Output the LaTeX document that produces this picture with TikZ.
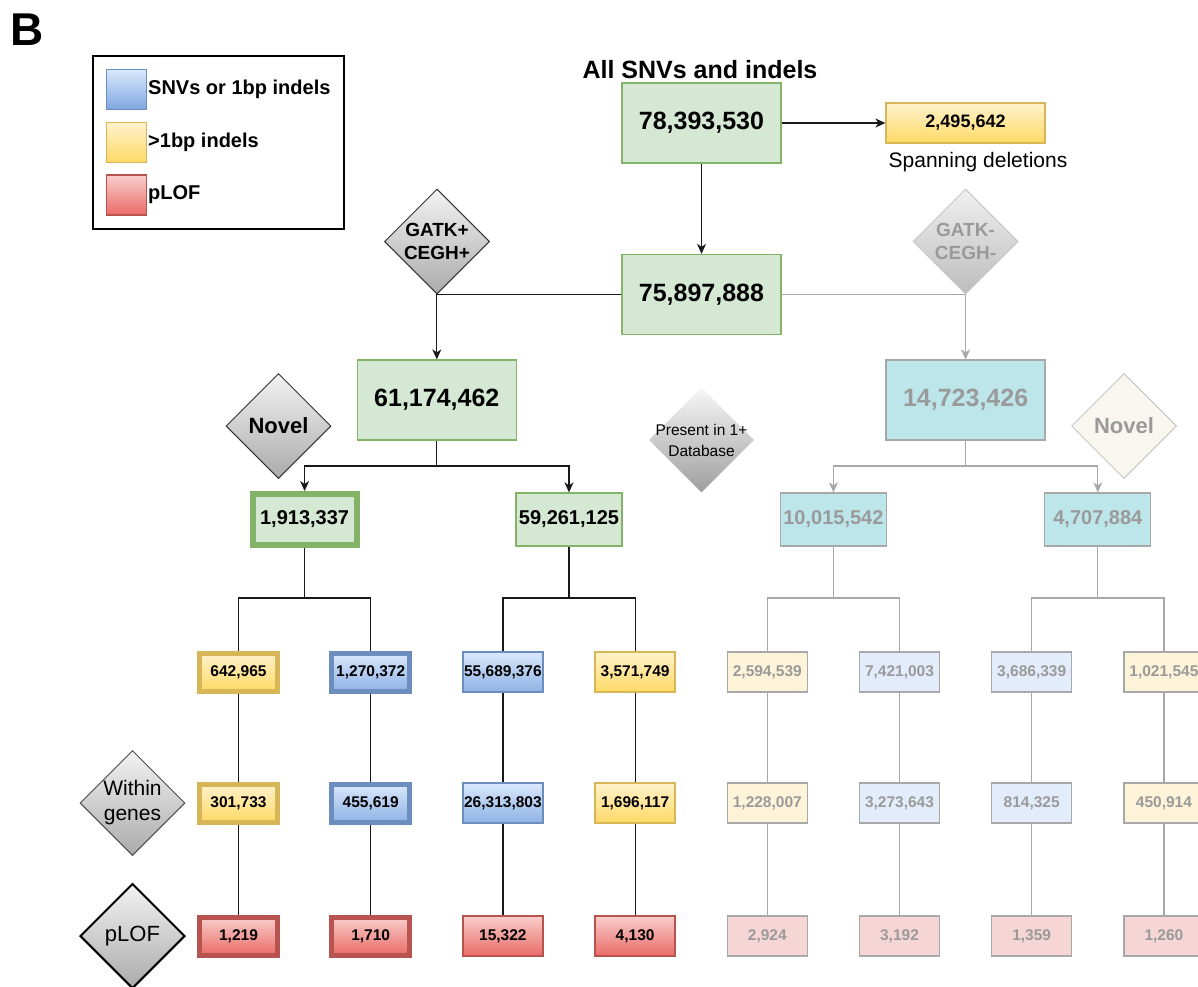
\documentclass[tikz,border=0pt]{standalone}
\usepackage{fontspec}
\setmainfont{Liberation Sans}
\usetikzlibrary{shapes.geometric,arrows.meta,calc}

% palette
\definecolor{grnF}{HTML}{D5E8D4}
\definecolor{grnD}{HTML}{82B366}
\definecolor{bluT}{HTML}{DAE8FC}
\definecolor{bluB}{HTML}{8FB2E5}
\definecolor{bluS}{HTML}{7EA6E0}
\definecolor{bluD}{HTML}{6C8EBF}
\definecolor{yelT}{HTML}{FFF2CC}
\definecolor{yelB}{HTML}{FFD966}
\definecolor{yelD}{HTML}{D6B656}
\definecolor{redT}{HTML}{F8CECC}
\definecolor{redB}{HTML}{EA6B66}
\definecolor{redD}{HTML}{B85450}
\definecolor{cyanF}{HTML}{BCE6EA}
\definecolor{fadeY}{HTML}{FDF3D8}
\definecolor{fadeB}{HTML}{E2ECFA}
\definecolor{fadeR}{HTML}{F6D5D5}
\definecolor{fadeTxt}{HTML}{9A9A9A}
\definecolor{fadeLn}{HTML}{A8A8A8}
\definecolor{creamF}{HTML}{F8F6EF}

\tikzset{
  box/.style={rectangle, inner sep=0pt, align=center},
  big/.style={box, minimum width=159pt, minimum height=80pt, font=\fontsize{25}{30}\selectfont\bfseries},
  mid/.style={box, minimum width=106pt, minimum height=53pt, font=\fontsize{20}{24}\selectfont\bfseries},
  small/.style={box, minimum width=80pt, minimum height=40pt, font=\fontsize{15.5}{18}\selectfont\bfseries},
  heavy/.style={line width=5pt, minimum width=78pt, minimum height=38pt},
  greenbox/.style={fill=grnF, draw=grnD, line width=1.3pt},
  bluebox/.style={top color=bluT, bottom color=bluB, draw=bluD, line width=1.3pt},
  yelbox/.style={top color=yelT, bottom color=yelB, draw=yelD, line width=1.3pt},
  redbox/.style={top color=redT, bottom color=redB, draw=redD, line width=1.3pt},
  fadebox/.style={draw=fadeLn, line width=1.3pt, text=fadeTxt},
  dia/.style={diamond, shape aspect=1, minimum width=105pt, minimum height=105pt, inner sep=0pt},
  darkdia/.style={dia, top color=black!5, bottom color=black!33, draw=black!80, line width=1pt},
  ln/.style={draw=black!90, line width=1.2pt},
  arr/.style={ln, -{Stealth[length=10pt,width=9pt,inset=3pt]}},
  gln/.style={draw=fadeLn, line width=1.2pt},
  garr/.style={gln, -{Stealth[length=10pt,width=9pt,inset=3pt]}},
  swatch/.style={rectangle, minimum size=40pt, inner sep=0pt, line width=1.5pt},
  legtxt/.style={anchor=west, inner sep=0pt, font=\fontsize{20}{24}\selectfont\bfseries},
}

\begin{document}
\begin{tikzpicture}[x=1pt, y=-1pt]
\useasboundingbox (0,0) rectangle (1198,986);
\fill[white] (0,0) rectangle (1198,986);
\clip (0,0) rectangle (1198,986);

% panel letter
\node[inner sep=0pt, font=\fontsize{46}{46}\selectfont\bfseries] (panel) at (27,30) {B};

% legend
\draw[line width=2pt] (93,56) rectangle (344,229);
\node[swatch, top color=bluT, bottom color=bluS, draw=bluD] (sw1) at (126.5,89.5) {};
\node[swatch, top color=yelT, bottom color=yelB, draw=yelD] (sw2) at (126.5,142.5) {};
\node[swatch, top color=redT, bottom color=redB, draw=redD] (sw3) at (126.5,195) {};
\node[legtxt] (lg1) at (148,89.5) {SNVs or 1bp indels};
\node[legtxt] (lg2) at (148,142.5) {>1bp indels};
\node[legtxt] (lg3) at (148,195) {pLOF};

% top of the funnel
\node[inner sep=0pt, font=\fontsize{25}{30}\selectfont\bfseries] (title) at (700,69.5) {All SNVs and indels};
\node[big, greenbox] (v78) at (701.5,123) {78,393,530};
\node[box, yelbox, minimum width=159pt, minimum height=40pt, font=\fontsize{18}{22}\selectfont\bfseries] (span) at (965.5,123) {2,495,642};
\node[inner sep=0pt, font=\fontsize{21}{25}\selectfont] (spanlbl) at (978,162) {Spanning deletions};
\node[big, greenbox] (v75) at (701.5,294.5) {75,897,888};

% filters
\node[darkdia, label={[font=\fontsize{19}{23}\selectfont\bfseries, align=center]center:GATK+\\CEGH+}] (gp) at (437,241.5) {};
\node[dia, top color=black!6, bottom color=black!26, draw=black!22, line width=1pt,
      label={[font=\fontsize{19}{23}\selectfont\bfseries, align=center, text=fadeTxt]center:GATK-\\CEGH-}] (gm) at (965.5,241.5) {};
\node[darkdia, label={[font=\fontsize{22}{26}\selectfont\bfseries]center:Novel}] (nvL) at (278.5,426) {};
\node[dia, top color=black!3, bottom color=black!38,
      label={[font=\fontsize{15.5}{21}\selectfont, align=center]center:Present in 1+\\Database}] (db) at (701.5,440) {};
\node[dia, fill=creamF, draw=black!22, line width=1pt,
      label={[font=\fontsize{22}{26}\selectfont\bfseries, text=fadeTxt]center:Novel}] (nvR) at (1124,426) {};
\node[darkdia, draw=black!70, label={[font=\fontsize{21}{25}\selectfont, align=center]center:Within\\genes}] (wg) at (132.5,803) {};
\node[darkdia, draw=black, line width=2pt, label={[font=\fontsize{22}{26}\selectfont]center:pLOF}] (pl) at (132.5,936) {};

% second split
\node[big, greenbox] (v61) at (436.8,400) {61,174,462};
\node[big, fadebox, fill=cyanF] (v14) at (965.6,400) {14,723,426};

% novel / known split
\node[mid, greenbox, line width=6pt, minimum width=104pt, minimum height=51pt] (n1) at (304.6,519.5) {1,913,337};
\node[mid, greenbox] (n2) at (569,519.5) {59,261,125};
\node[mid, fadebox, fill=cyanF] (n3) at (833.4,519.5) {10,015,542};
\node[mid, fadebox, fill=cyanF] (n4) at (1097.8,519.5) {4,707,884};

% variant classes
\node[small, yelbox, heavy]  (a1) at (238.5,672) {642,965};
\node[small, bluebox, heavy] (a2) at (370.7,672) {1,270,372};
\node[small, bluebox]        (a3) at (502.9,672) {55,689,376};
\node[small, yelbox]         (a4) at (635.1,672) {3,571,749};
\node[small, fadebox, fill=fadeY] (a5) at (767.3,672) {2,594,539};
\node[small, fadebox, fill=fadeB] (a6) at (899.5,672) {7,421,003};
\node[small, fadebox, fill=fadeB] (a7) at (1031.7,672) {3,686,339};
\node[small, fadebox, fill=fadeY] (a8) at (1163.9,672) {1,021,545};

% within genes
\node[small, yelbox, heavy]  (b1) at (238.5,803) {301,733};
\node[small, bluebox, heavy] (b2) at (370.7,803) {455,619};
\node[small, bluebox]        (b3) at (502.9,803) {26,313,803};
\node[small, yelbox]         (b4) at (635.1,803) {1,696,117};
\node[small, fadebox, fill=fadeY] (b5) at (767.3,803) {1,228,007};
\node[small, fadebox, fill=fadeB] (b6) at (899.5,803) {3,273,643};
\node[small, fadebox, fill=fadeB] (b7) at (1031.7,803) {814,325};
\node[small, fadebox, fill=fadeY] (b8) at (1163.9,803) {450,914};

% pLOF
\node[small, redbox, heavy] (c1) at (238.5,936) {1,219};
\node[small, redbox, heavy] (c2) at (370.7,936) {1,710};
\node[small, redbox]        (c3) at (502.9,936) {15,322};
\node[small, redbox]        (c4) at (635.1,936) {4,130};
\node[small, fadebox, fill=fadeR] (c5) at (767.3,936) {2,924};
\node[small, fadebox, fill=fadeR] (c6) at (899.5,936) {3,192};
\node[small, fadebox, fill=fadeR] (c7) at (1031.7,936) {1,359};
\node[small, fadebox, fill=fadeR] (c8) at (1163.9,936) {1,260};

% junction points of the splits
\coordinate (j61) at (v61.south |- 0,466);
\coordinate (j14) at (v14.south |- 0,466);
\coordinate (j1) at (n1.south |- 0,598);
\coordinate (j2) at (n2.south |- 0,598);
\coordinate (j3) at (n3.south |- 0,598);
\coordinate (j4) at (n4.south |- 0,598);

% connectors: top
\draw[arr] (v78.east) -- (span.west);
\draw[arr] (v78.south) -- (v75.north);
\draw[arr] (v75.west) -| (v61.north);
\draw[garr] (v75.east) -| (v14.north);

% connectors: second split
\draw[ln] (v61.south) -- (j61);
\draw[arr] (j61) -| (n1.north);
\draw[arr] (j61) -| (n2.north);
\draw[gln] (v14.south) -- (j14);
\draw[garr] (j14) -| (n3.north);
\draw[garr] (j14) -| (n4.north);

% connectors: class split
\draw[ln] (n1.south) -- (j1);
\draw[ln] (j1) -| (a1.north);
\draw[ln] (j1) -| (a2.north);
\draw[ln] (n2.south) -- (j2);
\draw[ln] (j2) -| (a3.north);
\draw[ln] (j2) -| (a4.north);
\draw[gln] (n3.south) -- (j3);
\draw[gln] (j3) -| (a5.north);
\draw[gln] (j3) -| (a6.north);
\draw[gln] (n4.south) -- (j4);
\draw[gln] (j4) -| (a7.north);
\draw[gln] (j4) -| (a8.north);

% connectors: columns
\foreach \i in {1,2,3,4}{
  \draw[ln] (a\i.south) -- (b\i.north);
  \draw[ln] (b\i.south) -- (c\i.north);
}
\foreach \i in {5,6,7,8}{
  \draw[gln] (a\i.south) -- (b\i.north);
  \draw[gln] (b\i.south) -- (c\i.north);
}
\end{tikzpicture}
\end{document}
